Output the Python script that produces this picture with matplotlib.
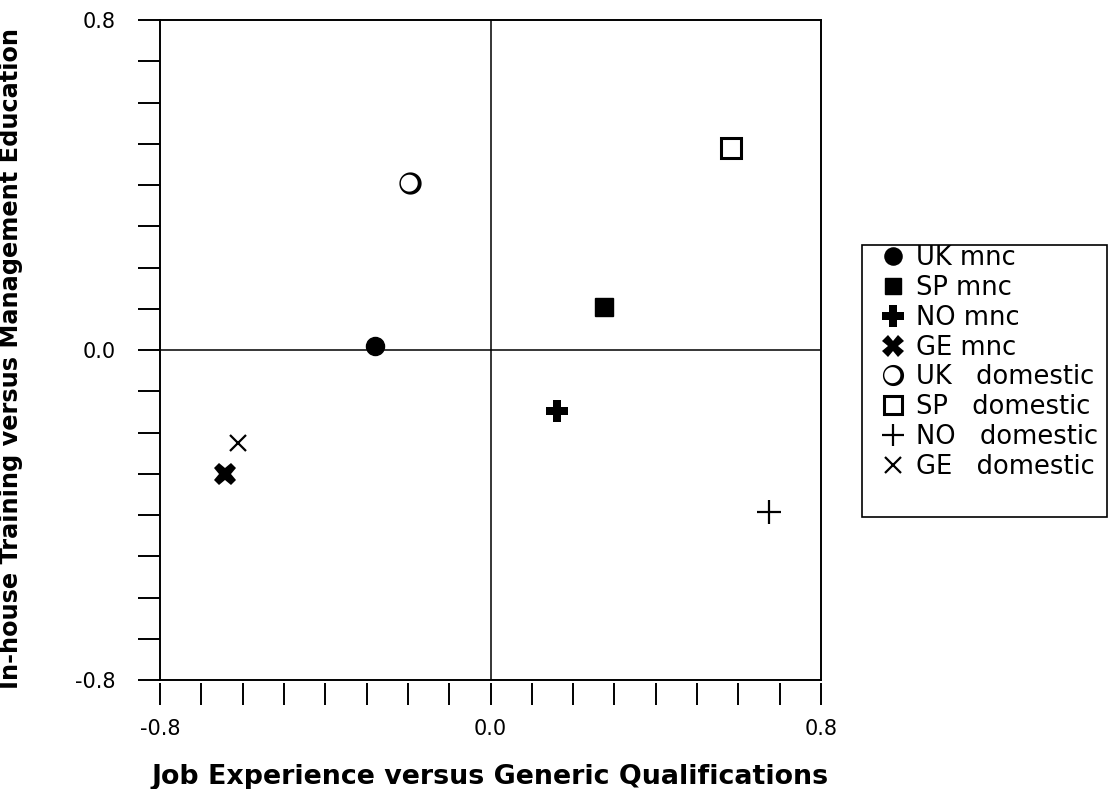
import numpy as np
import matplotlib
matplotlib.use('Agg')
import matplotlib.pyplot as plt
from matplotlib.path import Path
from matplotlib.patches import Rectangle

# data
groups = ['UK mnc', 'SP mnc', 'NO mnc', 'GE mnc',
          'UK   domestic', 'SP   domestic', 'NO   domestic', 'GE   domestic']
job_exp = [-0.28, 0.274, 0.16, -0.642, -0.196, 0.583, 0.673, -0.612]
inhouse = [0.01, 0.104, -0.148, -0.30, 0.404, 0.489, -0.392, -0.225]

xtick_vals = np.round(np.arange(-0.8, 0.81, 0.1), 1)
tick_text = {-0.8: '-0.8', 0.0: '0.0', 0.8: '0.8'}


def moon_marker():
    t = np.linspace(0, 2 * np.pi, 120)
    outer = np.column_stack([np.cos(t), np.sin(t)])
    inner = np.column_stack([0.76 * np.cos(-t) - 0.11, 0.76 * np.sin(-t) + 0.03])
    verts = np.vstack([outer, inner])
    codes = ([Path.MOVETO] + [Path.LINETO] * (len(t) - 1)) * 2
    return Path(verts, codes)


styles = [
    dict(marker='o', ms=13, mfc='black', mec='black'),
    dict(marker='s', ms=12.5, mfc='black', mec='black'),
    dict(marker='P', ms=16, mfc='black', mec='black', mew=0),
    dict(marker='X', ms=16, mfc='black', mec='black', mew=0),
    dict(marker=moon_marker(), ms=16, mfc='black', mec='none'),
    dict(marker='s', ms=14, mfc='white', mec='black', mew=2.2),
    dict(marker='+', ms=17, mec='black', mew=1.6),
    dict(marker='x', ms=12, mec='black', mew=1.6),
]

fig = plt.figure(figsize=(11.08, 7.89), dpi=100)
ax = fig.add_axes([160 / 1108, 109 / 789, 661 / 1108, 660 / 789])

lw = 1.4
ax.axhline(0, color='black', lw=1.1, zorder=1)
ax.axvline(0, color='black', lw=1.1, zorder=1)

handles = []
for i in range(len(groups)):
    h, = ax.plot(job_exp[i], inhouse[i], ls='none', label=groups[i], zorder=3, **styles[i])
    handles.append(h)

ax.set_xlim(-0.8, 0.8)
ax.set_ylim(-0.8, 0.8)

ax.set_xticks(xtick_vals)
ax.set_xticklabels([tick_text.get(v, '') for v in xtick_vals])
ax.set_yticks(xtick_vals)
ax.set_yticklabels([tick_text.get(v, '') for v in xtick_vals])

for s in ['top', 'right', 'left']:
    ax.spines[s].set_linewidth(lw)
# bottom ticks sit a little below the frame line
ax.spines['bottom'].set_position(('outward', 2))
ax.spines['bottom'].set_visible(False)
ax.axhline(-0.8, color='black', lw=lw, clip_on=False, zorder=2)

ax.tick_params(axis='y', direction='out', length=16, width=lw, pad=16,
               labelsize=15, labelfontfamily='DejaVu Sans')
ax.tick_params(axis='x', direction='out', length=16, width=lw, pad=10,
               labelsize=15, labelfontfamily='DejaVu Sans')

ax.set_xlabel('Job Experience versus Generic Qualifications', fontsize=19.4,
              fontweight='bold', family='DejaVu Sans')
ax.set_ylabel('In-house Training versus Management Education', fontsize=17.3,
              fontweight='bold', family='DejaVu Sans')
ax.xaxis.set_label_coords(0.5, -0.127)
ax.yaxis.set_label_coords(-0.208, 0.487)

leg = fig.legend(handles=handles, loc='upper left',
                 bbox_to_anchor=(880 / 1108, 1 - 245 / 789),
                 bbox_transform=fig.transFigure, borderaxespad=0,
                 fontsize=18.5, frameon=False,
                 handlelength=1.0, handletextpad=0.42, labelspacing=0.15,
                 borderpad=0, markerscale=0.95)
fig.patches.append(Rectangle((862 / 1108, 1 - 517 / 789), 245 / 1108, 272 / 789,
                             transform=fig.transFigure, fill=False,
                             edgecolor='black', lw=1.2))

fig.savefig('out.png', dpi=100)
